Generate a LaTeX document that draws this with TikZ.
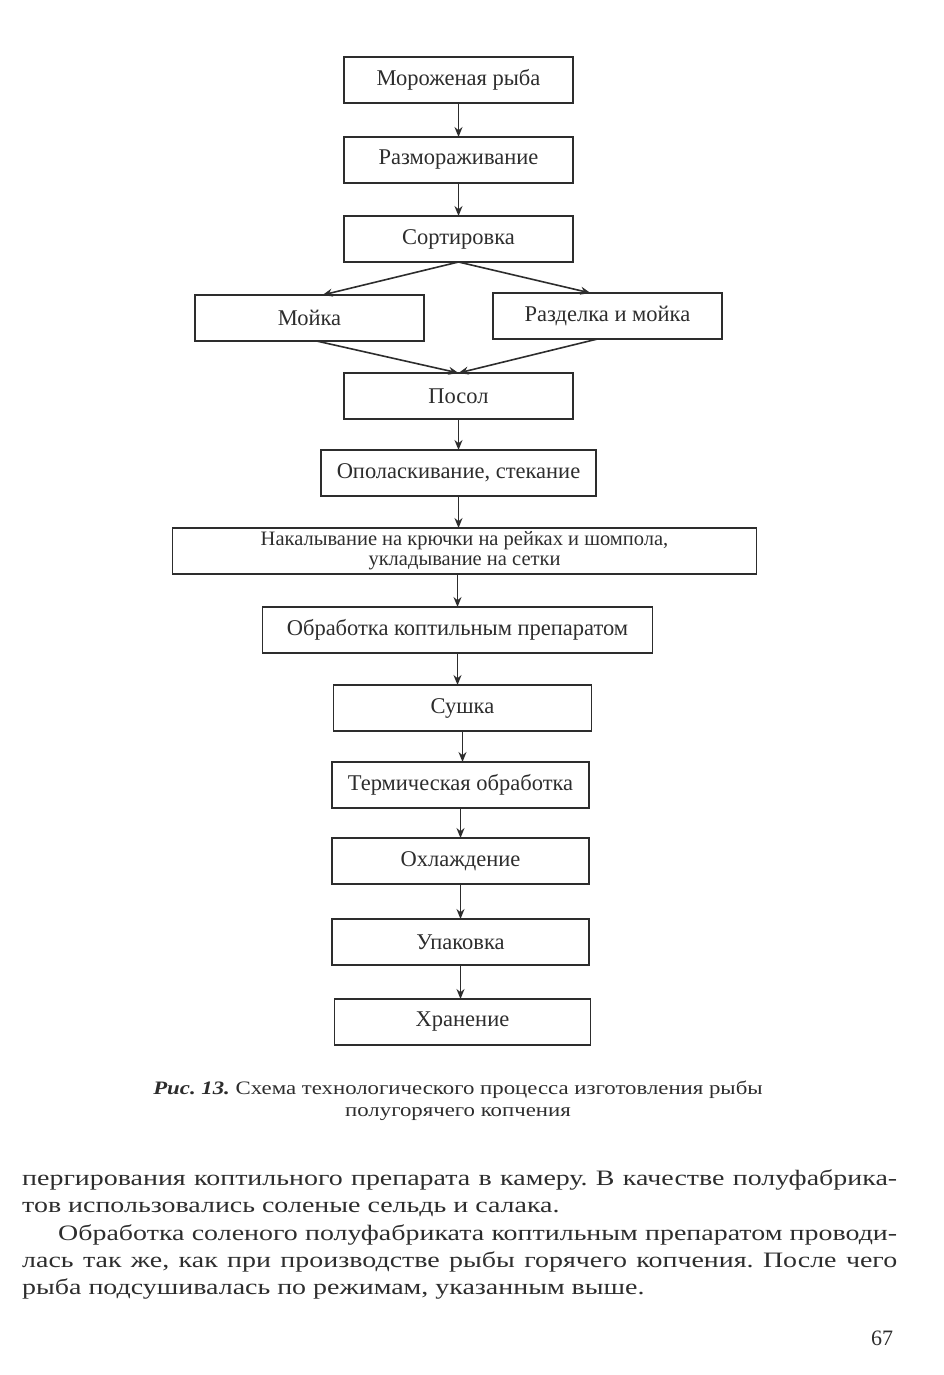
\documentclass[tikz,border=0pt]{standalone}
\usepackage{fontspec}
\setmainfont{Liberation Serif}
\newfontfamily\bodyfont{Liberation Serif}[FakeStretch=1.27]
\newfontfamily\capfont{Liberation Serif}[FakeStretch=1.2]
\usetikzlibrary{arrows.meta,positioning}
\definecolor{inkgray}{RGB}{45,45,45}
\frenchspacing

\begin{document}
\begin{tikzpicture}[
    x=1pt, y=-1pt,
    node distance=33pt,
    >={Stealth[length=10pt,width=8pt]}
]

\tikzset{
    stage/.style={
        draw=inkgray,
        line width=1.5pt,
        outer sep=0pt,
        minimum width=229pt,
        minimum height=46pt,
        inner sep=2pt,
        align=center,
        text=inkgray,
        font=\fontsize{22.5}{23}\selectfont
    },
    flow/.style={->,line width=1.6pt,draw=inkgray},
    bodyline/.style={
        anchor=base west,
        inner sep=0pt,
        text=inkgray,
        font=\bodyfont\fontsize{22}{27}\selectfont
    }
}

\useasboundingbox (0,0) rectangle (944,1375);

\node[stage] (frozen) at (458.5,80)
{Мороженая рыба};

\node[
    stage,
    below=34pt of frozen
] (thaw)
{Размораживание};

\node[
    stage,
    below=of thaw
] (sort)
{Сортировка};

\node[
    stage,
    below=of sort,
    xshift=-149pt
] (wash)
{Мойка};

\node[
    stage,
    below=of sort,
    xshift=149pt,
    yshift=2pt
] (cutwash)
{Разделка и мойка};

\coordinate (merge) at (wash.south -| sort);

\node[
    stage,
    below=32pt of merge
] (salt)
{Посол};

\node[
    stage,
    below=31pt of salt,
    minimum width=275pt
] (rinse)
{Ополаскивание, стекание};

\node[
    stage,
    below=32pt of rinse,
    minimum width=584pt,
    xshift=6pt,
    font=\fontsize{20.5}{20}\selectfont
] (hook)
{Накалывание на крючки на рейках и шомпола,\\укладывание на сетки};

\node[
    stage,
    below=of hook,
    minimum width=390pt,
    xshift=-7pt
] (smoke)
{Обработка коптильным препаратом};

\node[
    stage,
    below=32pt of smoke,
    minimum width=258pt,
    xshift=5pt
] (dry)
{Сушка};

\node[
    stage,
    below=31pt of dry,
    minimum width=257pt,
    xshift=-2pt
] (heat)
{Термическая обработка};

\node[
    stage,
    below=30pt of heat,
    minimum width=257pt
] (cool)
{Охлаждение};

\node[
    stage,
    below=35pt of cool,
    minimum width=257pt
] (pack)
{Упаковка};

\node[
    stage,
    below=34pt of pack,
    minimum width=256pt,
    xshift=2pt
] (store)
{Хранение};

\draw[flow]
(frozen.south)--(frozen.south |- thaw.north);

\draw[flow]
(thaw.south)--(thaw.south |- sort.north);

\draw[flow]
(sort.south)--([xshift=13pt]wash.north);

\draw[flow]
(sort.south)--([xshift=-17pt]cutwash.north);

\draw[flow]
([xshift=7pt]wash.south)--(salt.north);

\draw[flow]
([xshift=-10pt]cutwash.south)--(salt.north);

\draw[flow]
(salt.south)--(salt.south |- rinse.north);

\draw[flow]
(rinse.south)--(rinse.south |- hook.north);

\draw[flow]
(hook.south -| smoke)--(smoke.north);

\draw[flow]
(smoke.south)--(smoke.south |- dry.north);

\draw[flow]
(dry.south)--(dry.south |- heat.north);

\draw[flow]
(heat.south)--(heat.south |- cool.north);

\draw[flow]
(cool.south)--(cool.south |- pack.north);

\draw[flow]
(pack.south)--(pack.south |- store.north);

\node[
    align=center,
    text=inkgray,
    font=\capfont\fontsize{19}{22}\selectfont
] (caption) at (458,1101)
{\textbf{\textit{Рис. 13.}} Схема технологического процесса изготовления рыбы\\полугорячего копчения};

\node[bodyline] (line1) at (22,1185)
{\hbox to 875pt{пергирования коптильного препарата в камеру. В качестве полуфабрика-}};

\node[bodyline] (line2) at (22,1212)
{тов использовались соленые сельдь и салака.};

\node[bodyline] (line3) at (58,1240)
{\hbox to 839pt{Обработка соленого полуфабриката коптильным препаратом проводи-}};

\node[bodyline] (line4) at (22,1267)
{\hbox to 875pt{лась так же, как при производстве рыбы горячего копчения. После чего}};

\node[bodyline] (line5) at (22,1294)
{рыба подсушивалась по режимам, указанным выше.};

\node[
    bodyline,
    font=\fontsize{22}{27}\selectfont
] (pagenum) at (871,1345)
{67};

\end{tikzpicture}
\end{document}
